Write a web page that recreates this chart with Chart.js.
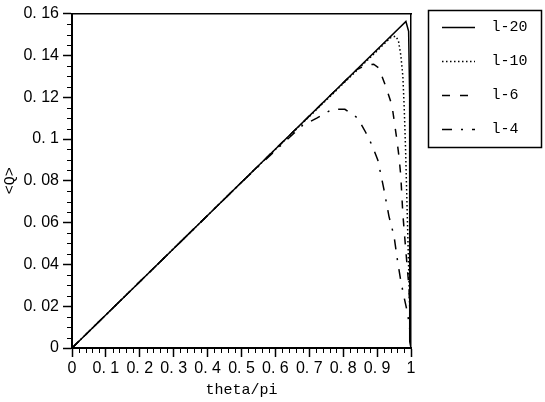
<!DOCTYPE html>
<html>
<head>
<meta charset="utf-8">
<script src="https://cdn.jsdelivr.net/npm/chart.js@4/dist/chart.umd.min.js"></script>
<style>
  html, body { margin: 0; padding: 0; background: #fff; }
  #wrap { width: 545px; height: 402px; }
</style>
</head>
<body>
<div id="wrap"><canvas id="c" width="545" height="402"></canvas></div>
<script>
// ---- data ----
const seriesLabels = ['l-20', 'l-10', 'l-6', 'l-4'];

const l20Theta = [0, 0.5, 0.985, 0.993, 0.996, 0.997, 0.996, 0.995, 0.997, 1.0];
const l20Q     = [0, 0.0793, 0.1562, 0.1515, 0.12, 0.06, 0.025, 0.01, 0.003, 0];

const l10Theta = [0, 0.5, 0.94, 0.955, 0.963, 0.97, 0.976, 0.98, 0.984, 0.988, 0.992, 0.996, 1.0];
const l10Q     = [0, 0.0793, 0.1485, 0.1492, 0.147, 0.140, 0.130, 0.115, 0.095, 0.070, 0.045, 0.020, 0];

const l6Theta = [0, 0.5, 0.84, 0.87, 0.89, 0.905, 0.926, 0.944, 0.951, 0.958, 0.965, 0.970, 0.976, 0.985, 0.994, 0.998, 1.0];
const l6Q     = [0, 0.0793, 0.1332, 0.1355, 0.1358, 0.134, 0.125, 0.116, 0.108, 0.100, 0.091, 0.082, 0.064, 0.046, 0.029, 0.012, 0];

const l4Theta = [0, 0.5, 0.6, 0.65, 0.68, 0.722, 0.76, 0.78, 0.805, 0.843, 0.867, 0.885, 0.902, 0.92, 0.935, 0.95, 0.96, 0.97, 0.98, 0.99, 0.997, 1.0];
const l4Q     = [0, 0.0793, 0.0945, 0.1020, 0.1065, 0.1100, 0.1135, 0.1143, 0.1142, 0.1100, 0.1030, 0.0970, 0.0900, 0.0760, 0.0630, 0.0535, 0.0420, 0.0320, 0.0240, 0.0166, 0.0080, 0];

const xTickLabels = ['0', '0. 1', '0. 2', '0. 3', '0. 4', '0. 5', '0. 6', '0. 7', '0. 8', '0. 9', '1'];
const yTickLabels = ['0', '0. 02', '0. 04', '0. 06', '0. 08', '0. 1', '0. 12', '0. 14', '0. 16'];
const xTitle = 'theta/pi';
const yTitle = '<Q>';

// ---- build datasets ----
function pts(xs, ys) { return xs.map((x, i) => ({ x: x, y: ys[i] })); }
const styles = [
  { dash: [] },
  { dash: [1.5, 2.5] },
  { dash: [8, 10] },
  { dash: [10, 9, 2, 9] }
];
const allData = [pts(l20Theta, l20Q), pts(l10Theta, l10Q), pts(l6Theta, l6Q), pts(l4Theta, l4Q)];
const datasets = allData.map((d, i) => ({
  label: seriesLabels[i],
  data: d,
  showLine: true,
  borderColor: '#000',
  backgroundColor: '#000',
  borderWidth: 1.5,
  borderDash: styles[i].dash,
  pointRadius: 0,
  tension: 0
}));

// minor ticks + legend frame
const decor = {
  id: 'decor',
  afterDraw(chart) {
    const ctx = chart.ctx;
    const xs = chart.scales.x, ys = chart.scales.y;
    ctx.save();
    ctx.strokeStyle = '#000';
    ctx.lineWidth = 1;
    ctx.beginPath();
    for (let k = 1; k < 50; k++) {
      if (k % 5 === 0) continue;
      const px = Math.round(xs.getPixelForValue(k / 50)) + 0.5;
      ctx.moveTo(px, ys.bottom);
      ctx.lineTo(px, ys.bottom + 5);
    }
    for (let k = 1; k < 32; k++) {
      if (k % 4 === 0) continue;
      const py = Math.round(ys.getPixelForValue(k * 0.005)) + 0.5;
      ctx.moveTo(xs.left - 5, py);
      ctx.lineTo(xs.left, py);
    }
    ctx.stroke();
    // legend frame
    const lg = chart.legend;
    if (lg && lg.legendHitBoxes && lg.legendHitBoxes.length) {
      const hb = lg.legendHitBoxes;
      const last = hb[hb.length - 1];
      const l = Math.round(lg.left + 5) + 0.5;
      const r = Math.round(lg.right) - 1.5;
      const t = Math.round(lg.top + 9) + 0.5;
      const b = Math.round(last.top + last.height + 10) + 0.5;
      ctx.lineWidth = 1.5;
      ctx.strokeRect(l, t, r - l, b - t);
    }
    ctx.restore();
  }
};

new Chart(document.getElementById('c'), {
  type: 'scatter',
  data: { datasets: datasets },
  options: {
    responsive: false,
    animation: false,
    devicePixelRatio: 1,
    layout: { padding: { top: 1, right: 2, bottom: 0, left: 0 } },
    plugins: {
      tooltip: { enabled: false },
      legend: {
        position: 'right',
        align: 'start',
        maxWidth: 120,
        labels: {
          usePointStyle: true,
          pointStyle: 'line',
          pointStyleWidth: 33,
          padding: 19,
          color: '#000',
          font: { family: 'Liberation Mono', size: 15 },
          generateLabels(chart) {
            const items = Chart.defaults.plugins.legend.labels.generateLabels(chart);
            items.forEach((it, i) => {
              const ds = chart.data.datasets[it.datasetIndex];
              it.text = ' ' + it.text + '  ';
              it.pointStyle = 'line';
              it.lineDash = ds.borderDash;
              it.lineWidth = ds.borderWidth;
              it.strokeStyle = ds.borderColor;
            });
            return items;
          }
        }
      }
    },
    scales: {
      x: {
        type: 'linear',
        position: 'bottom',
        min: 0, max: 1,
        afterFit(s) { s.height = 54; },
        ticks: {
          stepSize: 0.1,
          autoSkip: false,
          maxRotation: 0,
          padding: 2,
          color: '#000',
          font: { family: 'Liberation Sans', size: 16 },
          callback: (v, i) => xTickLabels[i]
        },
        grid: { display: true, drawOnChartArea: false, drawTicks: true, tickLength: 9, tickColor: '#000', tickWidth: 1.5 },
        border: { display: true, color: '#000', width: 2 },
        title: { display: true, text: xTitle, color: '#000', font: { family: 'Liberation Mono', size: 15 }, padding: { top: 4, bottom: 3 } }
      },
      y: {
        type: 'linear',
        position: 'left',
        min: 0, max: 0.16,
        afterFit(s) { s.width = 72; },
        ticks: {
          stepSize: 0.02,
          autoSkip: false,
          padding: 4,
          color: '#000',
          font: { family: 'Liberation Sans', size: 16 },
          callback: (v, i) => yTickLabels[i]
        },
        grid: { display: true, drawOnChartArea: false, drawTicks: true, tickLength: 9, tickColor: '#000', tickWidth: 1.5 },
        border: { display: true, color: '#000', width: 2 },
        title: { display: true, text: yTitle, color: '#000', font: { family: 'Liberation Mono', size: 15 }, padding: { top: 1, bottom: 0 } }
      },
      xTop: {
        type: 'linear',
        position: 'top',
        min: 0, max: 1,
        afterFit(s) { s.height = 9; },
        ticks: { display: false },
        grid: { display: false },
        border: { display: true, color: '#000', width: 1.5 }
      },
      yRight: {
        type: 'linear',
        position: 'right',
        min: 0, max: 0.16,
        afterFit(s) { s.width = 12; },
        ticks: { display: false },
        grid: { display: false },
        border: { display: true, color: '#000', width: 1.5 }
      }
    }
  },
  plugins: [decor]
});
</script>
</body>
</html>
